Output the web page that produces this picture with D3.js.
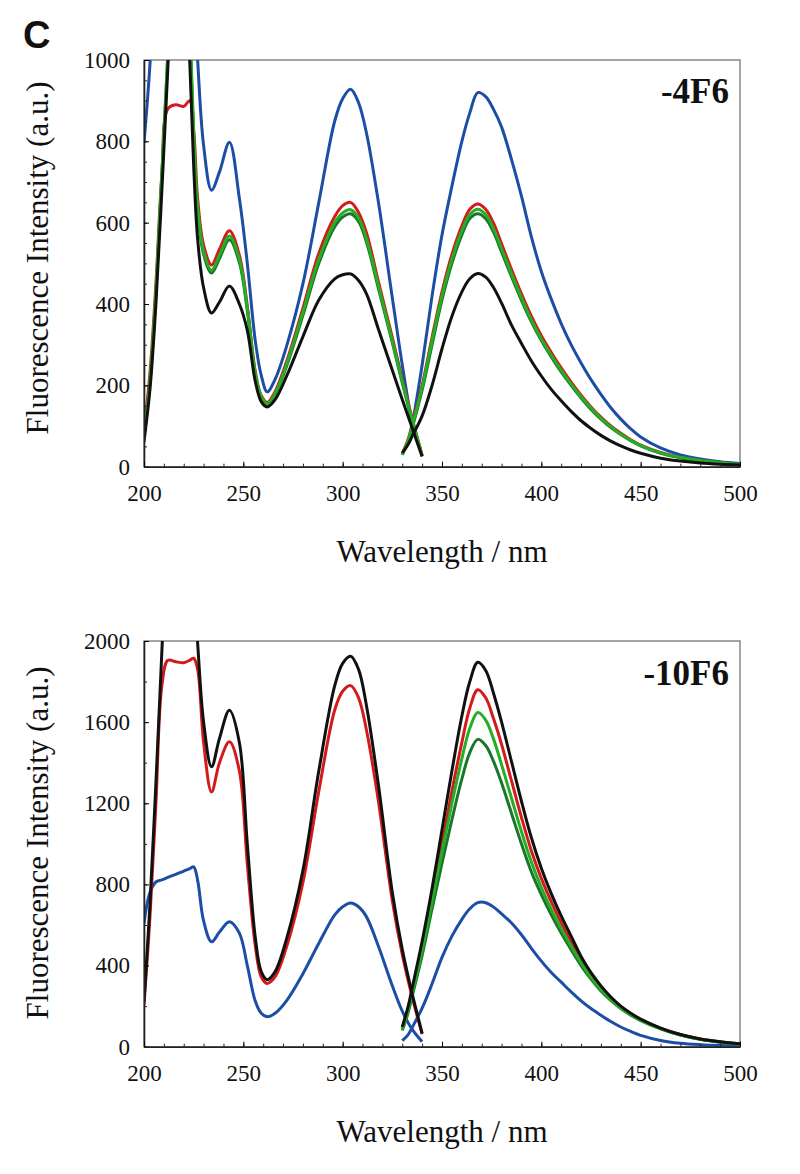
<!DOCTYPE html>
<html><head><meta charset="utf-8">
<script src="https://cdn.jsdelivr.net/npm/d3@7"></script>
<style>body{margin:0;background:#fff}svg{display:block}</style>
</head><body>
<svg id="chart" width="800" height="1174"></svg>
<script>
// ---------- data ----------
const exWavelengths = [200,203,206,209,212,216,220,223,225,227,230,234,238,243,248,252,256,259,262,266,272,280,288,296,300,304,308,312,318,325,330,335,340];
const emWavelengths = [330,333,335,340,345,350,355,360,364,368,372,376,380,385,390,395,400,405,410,415,420,425,430,435,440,445,450,460,470,480,490,500];
const xTickValues = [200,250,300,350,400,450,500];
const yTicksTop = [0,200,400,600,800,1000];
const yTicksBottom = [0,400,800,1200,1600,2000];
const panelLabels = ["-4F6","-10F6"];

// top panel (-4F6): excitation
const ex4Blue  = [796,990,1300,1600,1800,1900,1800,1500,1200,1000,790,680,725,798,660,500,310,225,184,215,300,450,650,850,905,928,895,820,650,415,250,100,null];
const ex4Red   = [90,230,450,720,880,890,886,900,830,660,545,496,535,580,520,395,235,175,158,185,262,390,525,615,642,650,625,575,455,318,215,118,28];
const ex4DGreen= [72,205,425,715,1010,1400,1450,1090,810,630,522,476,512,558,502,384,226,170,153,178,250,372,500,590,614,622,603,552,438,305,206,112,26];
const ex4Green = [75,210,430,720,1020,1400,1450,1100,820,640,530,483,520,567,510,390,230,172,155,180,255,380,510,600,624,632,612,560,445,310,210,115,28];
const ex4Black = [61,190,400,680,980,1400,1450,1000,740,560,440,378,405,444,400,335,210,160,147,165,225,320,410,462,472,474,458,425,338,237,165,95,25];
// top panel (-4F6): emission
const em4Blue  = [null,null,100,250,420,570,690,800,870,920,910,878,835,755,665,565,480,412,352,300,255,214,178,145,117,93,73,46,29,19,12,8];
const em4Red   = [32,68,105,200,318,430,522,592,633,646,633,598,548,485,425,370,322,281,243,208,176,147,122,100,82,66,53,35,23,15,10,6];
const em4DGreen= [29,62,95,188,300,410,500,570,610,622,610,576,528,467,409,356,310,270,233,200,169,141,117,96,79,64,51,33,22,15,10,6];
const em4Green = [30,65,100,195,310,420,510,580,620,633,620,585,536,474,415,361,314,274,237,203,172,144,119,98,80,65,52,34,23,15,10,6];
const em4Black = [34,55,75,125,200,290,370,430,462,475,466,440,402,348,303,260,223,190,162,136,113,94,77,63,51,41,33,21,14,9,6,4];

// bottom panel (-10F6): excitation
const ex10Blue  = [608,760,812,822,835,850,866,878,887,820,620,517,565,616,560,400,225,165,148,165,230,360,510,650,690,709,690,640,495,300,175,85,25];
const ex10Red   = [205,640,1200,1780,1905,1898,1893,1905,1915,1860,1500,1256,1400,1503,1360,900,500,345,312,345,500,810,1260,1660,1752,1780,1720,1560,1210,720,455,245,62];
const ex10Black = [222,700,1300,1950,2600,2900,2900,2700,2300,1990,1600,1380,1520,1659,1500,1000,540,370,330,370,540,870,1360,1780,1890,1925,1860,1680,1290,760,480,260,66];
// bottom panel (-10F6): emission
const em10Blue  = [30,60,95,190,310,440,545,628,680,710,710,688,655,610,552,485,422,366,318,270,226,188,155,124,97,75,56,31,17,10,6,4];
const em10Red   = [90,190,275,490,740,1000,1260,1500,1670,1760,1720,1615,1490,1310,1130,965,830,715,612,518,430,355,292,240,197,162,134,91,60,38,24,14];
const em10DGreen= [80,170,250,450,680,905,1120,1320,1450,1515,1485,1405,1300,1150,1000,862,750,650,560,478,400,333,275,228,188,155,129,88,57,36,22,13];
const em10Green = [85,180,265,475,715,960,1200,1420,1570,1648,1610,1515,1390,1225,1060,910,785,678,582,495,413,342,282,233,192,158,131,89,58,37,23,13];
const em10Black = [98,200,290,520,780,1070,1360,1630,1800,1895,1855,1740,1600,1405,1210,1030,880,755,645,545,445,365,300,245,200,165,136,92,60,38,24,14];

// ---------- drawing ----------
const COL = {blue:"#1c4ea6", red:"#d41a1a", dgreen:"#17772a", green:"#26ad26", black:"#111111"};
const svg = d3.select("#chart");
const serif = "'Liberation Serif','Times New Roman',serif";
const x = d3.scaleLinear().domain([200,500]).range([144,740]);

function panel(p) {
  const y = d3.scaleLinear().domain(p.domain).range([p.bottom, p.top]);
  const g = svg.append("g");
  g.append("rect").attr("x", x(200)).attr("y", p.top)
    .attr("width", x(500)-x(200)).attr("height", p.bottom-p.top)
    .attr("fill","none").attr("stroke","#6a6a6a").attr("stroke-width",1.2);
  g.append("clipPath").attr("id", p.id).append("rect")
    .attr("x", x(200)).attr("y", p.top).attr("width", x(500)-x(200)).attr("height", p.bottom-p.top+6);
  const cg = g.append("g").attr("clip-path", `url(#${p.id})`);
  const line = d3.line().x(d => x(d[0])).y(d => y(d[1])).curve(d3.curveCatmullRom.alpha(0.5));
  p.series.forEach(s => {
    [[exWavelengths, s.ex], [emWavelengths, s.em]].forEach(([ws, vs]) => {
      if (!vs) return;
      const pts = ws.map((w,i) => [w, vs[i]]).filter(d => d[1] != null);
      cg.append("path").attr("d", line(pts)).attr("fill","none")
        .attr("stroke", s.color).attr("stroke-width", 3).attr("stroke-linejoin","round");
    });
  });
  const yMinor = d3.range(p.domain[0], p.domain[1]+1, p.minor);
  g.append("g").attr("transform", `translate(${x(200)},0)`)
    .call(d3.axisLeft(y).tickValues(yMinor).tickSizeInner(-3).tickSizeOuter(0).tickFormat(""))
    .call(a => a.select(".domain").remove())
    .selectAll("line").attr("stroke","#222");
  const xMinor = d3.range(200, 501, 10);
  g.append("g").attr("transform", `translate(0,${p.bottom})`)
    .call(d3.axisBottom(x).tickValues(xMinor).tickSizeInner(-3).tickSizeOuter(0).tickFormat(""))
    .call(a => a.select(".domain").remove())
    .selectAll("line").attr("stroke","#222");
  const ya = g.append("g").attr("transform", `translate(${x(200)},0)`)
    .call(d3.axisLeft(y).tickValues(p.ticks).tickSizeInner(-5).tickSizeOuter(0).tickPadding(14).tickFormat(d3.format("d")));
  ya.attr("font-family", serif).attr("font-size", 23);
  ya.selectAll("text").style("font-family", serif).style("font-size", "23px").attr("fill","#111");
  ya.select(".domain").attr("stroke","#222").attr("stroke-width",1.6);
  const xa = g.append("g").attr("transform", `translate(0,${p.bottom})`)
    .call(d3.axisBottom(x).tickValues(xTickValues).tickSizeInner(-5).tickSizeOuter(0).tickPadding(18));
  xa.attr("font-family", serif).attr("font-size", 23);
  xa.selectAll("text").style("font-family", serif).style("font-size", "23px").attr("fill","#111");
  xa.select(".domain").attr("stroke","#222").attr("stroke-width",1.6);
  g.append("text").attr("x", 442).attr("y", p.bottom + 95).attr("text-anchor","middle")
    .style("font-family", serif).style("font-size", "31px").attr("fill","#111").text("Wavelength / nm");
  g.append("text").attr("transform", `translate(48,${p.ycenter}) rotate(-90)`).attr("text-anchor","middle")
    .style("font-family", serif).style("font-size", "31px").attr("fill","#111").text("Fluorescence Intensity (a.u.)");
  g.append("text").attr("x", 729).attr("y", p.labelY).attr("text-anchor","end")
    .style("font-family", serif).style("font-weight","bold").style("font-size", "35px").attr("fill","#111").text(p.label);
}

svg.append("text").attr("x", 23).attr("y", 48).style("font-family","'Liberation Sans',Arial,sans-serif")
  .style("font-weight","bold").style("font-size", "38px").attr("fill","#111").text("C");

panel({id:"clipTop", domain:[0,1000], top:60, bottom:466.7, ticks:yTicksTop, minor:50,
  ycenter:258, label:panelLabels[0], labelY:103,
  series:[
    {ex:ex4Blue, em:em4Blue, color:COL.blue},
    {ex:ex4Red, em:em4Red, color:COL.red},
    {ex:ex4DGreen, em:em4DGreen, color:COL.dgreen},
    {ex:ex4Green, em:em4Green, color:COL.green},
    {ex:ex4Black, em:em4Black, color:COL.black}
  ]});
panel({id:"clipBottom", domain:[0,2000], top:641, bottom:1046.7, ticks:yTicksBottom, minor:200,
  ycenter:843, label:panelLabels[1], labelY:685,
  series:[
    {ex:ex10Blue, em:em10Blue, color:COL.blue},
    {ex:ex10Red, em:em10Red, color:COL.red},
    {ex:null, em:em10DGreen, color:COL.dgreen},
    {ex:null, em:em10Green, color:COL.green},
    {ex:ex10Black, em:em10Black, color:COL.black}
  ]});
</script>
</body></html>
